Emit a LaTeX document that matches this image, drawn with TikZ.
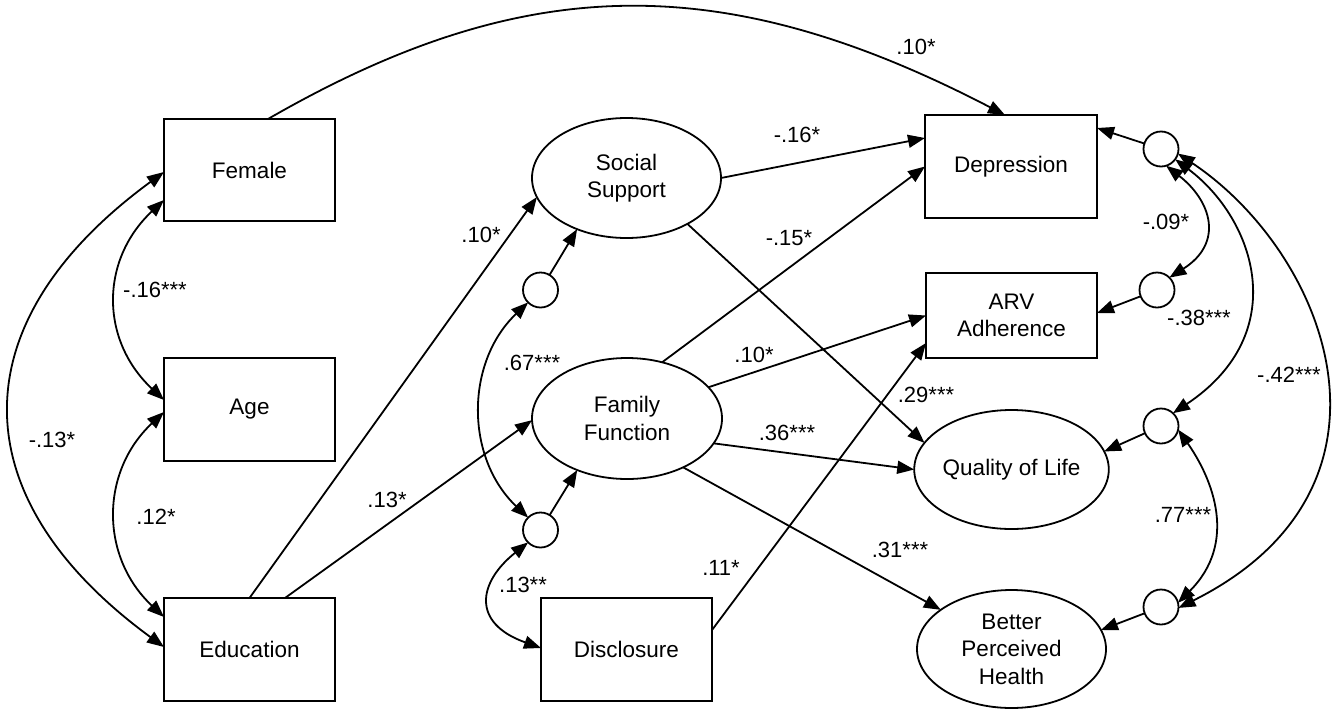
\documentclass[tikz,border=0pt]{standalone}
\usepackage{fontspec}
\setmainfont{Liberation Sans}
\usetikzlibrary{arrows.meta,shapes.geometric}
\begin{document}
\begin{tikzpicture}[x=1pt,y=-1pt,
  every node/.style={font=\fontsize{22.5}{27.5}\selectfont, inner sep=0pt, outer sep=0pt},
  obs/.style={draw, line width=1.8pt, rectangle, minimum width=171pt, minimum height=102pt, align=center},
  lat/.style={draw, line width=1.8pt, ellipse, minimum width=189pt, minimum height=120pt, align=center},
  res/.style={draw, line width=1.8pt, circle, minimum size=35pt},
  lab/.style={font=\fontsize{22}{26}\selectfont},
  arr/.style={line width=1.8pt, -{Triangle[length=17pt,width=13pt]}},
  biarr/.style={line width=1.8pt, {Triangle[length=17pt,width=13pt]}-{Triangle[length=17pt,width=13pt]}}
]
\useasboundingbox (0,0) rectangle (1338,710);
% observed boxes
\node[obs] (Female) at (249.5,170) {Female};
\node[obs, minimum height=103pt] (Age) at (249.5,409.5) {Age};
\node[obs, minimum height=103pt] (Education) at (249.5,649.5) {Education};
\node[obs, minimum height=103pt] (Disclosure) at (626.5,649.5) {Disclosure};
\node[obs, minimum width=172pt, minimum height=103pt] (Depression) at (1011,166.5) {Depression};
\node[obs, minimum height=85pt] (ARV) at (1011.5,315.5) {ARV\\Adherence};
% latent ellipses
\node[lat] (SS) at (626.5,178) {Social\\Support};
\node[lat, minimum width=190pt, minimum height=121pt] (FF) at (627,418.5) {Family\\Function};
\node[lat, minimum height=119pt] (QoL) at (1011.5,469.5) {Quality of Life};
\node[lat, minimum height=118pt] (BPH) at (1011.5,649) {Better\\Perceived\\Health};
% residual circles
\node[res] (e1) at (540.5,290) {};
\node[res] (e2) at (540.5,530) {};
\node[res] (eD) at (1161,149) {};
\node[res] (eA) at (1157,290) {};
\node[res] (eQ) at (1161,426) {};
\node[res] (eB) at (1161,607) {};

% residual arrows
\draw[arr] (e1) -- (SS.226);
\draw[arr] (e2) -- (FF.226);
\draw[arr] (eD) -- ([yshift=38.5pt]Depression.east);
\draw[arr] (eA) -- ([yshift=2.5pt]ARV.east);
\draw[arr] (eQ) -- (QoL.11);
\draw[arr] (eB) -- (BPH.12);

% structural paths
\draw[arr] (Education.north) -- (SS.192);
\draw[arr] ([xshift=35.5pt]Education.north) -- (FF.181);
\draw[arr] (SS.0) -- ([yshift=28.5pt]Depression.west);
\draw[arr] (SS.-37) -- (QoL.163);
\draw[arr] (FF.58) -- (Depression.west);
\draw[arr] (FF.21) -- (ARV.west);
\draw[arr] (FF.-16) -- (QoL.180);
\draw[arr] (FF.-41) -- (BPH.151);
\draw[arr] ([yshift=19.5pt]Disclosure.east) -- ([yshift=-27.5pt]ARV.west);
\draw[arr] ([xshift=18.5pt]Female.north) .. controls +(255,-147) and +(-283,-147) .. ([xshift=-6pt]Depression.north);

% covariances left
\draw[biarr] ([yshift=-30pt]Female.west) .. controls +(-64,60) and +(-64,-60) .. ([yshift=9.5pt]Age.west);
\draw[biarr] ([yshift=-2pt]Female.west) .. controls +(-205,150) and +(-205,-150) .. ([yshift=2.5pt]Education.west);
\draw[biarr] ([yshift=-2.5pt]Age.west) .. controls +(-64,60) and +(-64,-60) .. ([yshift=32.5pt]Education.west);
\draw[biarr] (e1.225) .. controls +(-63,60) and +(-63,-60) .. (e2.135);
\draw[biarr] (e2.225) .. controls +(-50,40) and +(-70,-25) .. ([yshift=1.5pt]Disclosure.west);

% covariances right
\draw[biarr] (eD.287) .. controls +(45,35) and +(55,-35) .. (eA.45);
\draw[biarr] (eD.-36) .. controls +(80,60) and +(120,-80) .. (eQ.47);
\draw[biarr] (eD.-15) .. controls +(150,100) and +(240,-120) .. (eB.-3);
\draw[biarr] (eQ.-12) .. controls +(35,50) and +(60,-60) .. (eB.14);

% labels
\node[lab] (l1) at (916,47) {.10*};
\node[lab] (l2) at (797,135) {-.16*};
\node[lab] (l3) at (789,238) {-.15*};
\node[lab] (l4) at (481,235) {.10*};
\node[lab] (l5) at (532,363) {.67***};
\node[lab] (l6) at (754,355) {.10*};
\node[lab] (l7) at (787,433) {.36***};
\node[lab] (l8) at (926,395) {.29***};
\node[lab] (l9) at (900,550) {.31***};
\node[lab] (l10) at (387,500) {.13*};
\node[lab] (l11) at (721,568) {.11*};
\node[lab] (l12) at (523,585) {.13**};
\node[lab] (l13) at (155,290) {-.16***};
\node[lab] (l14) at (52,440) {-.13*};
\node[lab] (l15) at (156,517) {.12*};
\node[lab] (l16) at (1166,222) {-.09*};
\node[lab] (l17) at (1199,318) {-.38***};
\node[lab] (l18) at (1289,375) {-.42***};
\node[lab] (l19) at (1183,515) {.77***};
\end{tikzpicture}
\end{document}
